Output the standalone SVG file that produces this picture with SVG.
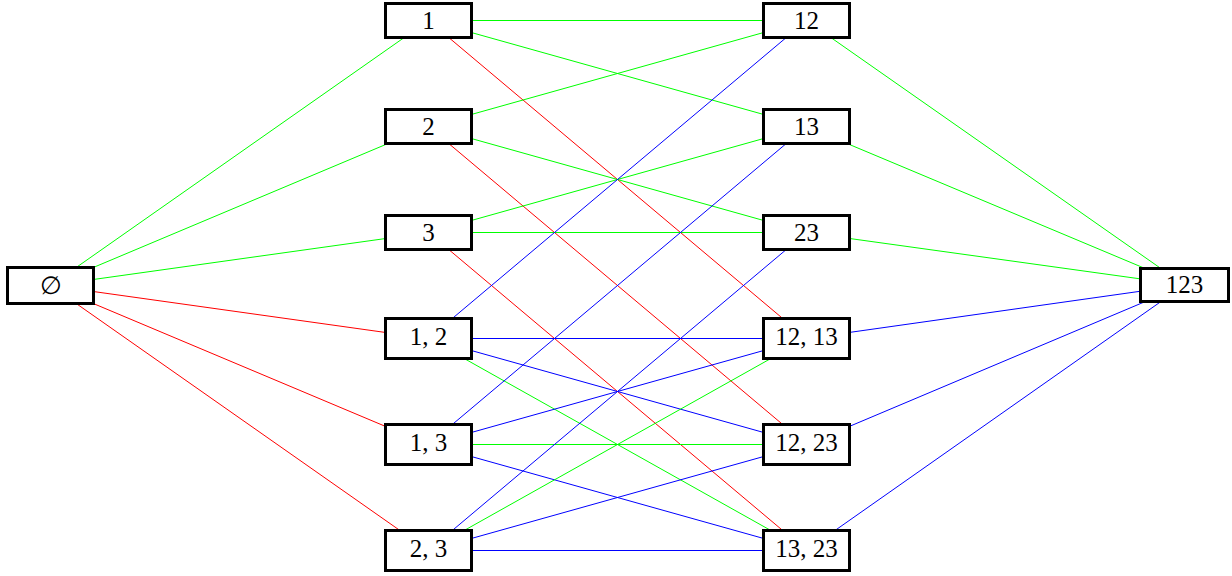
<svg xmlns="http://www.w3.org/2000/svg" width="1232" height="576" viewBox="0 0 1232 576">
<style>
.n rect{fill:#fff;stroke:#000;stroke-width:3}
.n text{font-family:"Liberation Serif","DejaVu Serif",serif;font-size:25px;text-anchor:middle;fill:#000}
.e line{stroke-width:1;fill:none}
.g{stroke:#00ff00}.r{stroke:#ff0000}.b{stroke:#0000ff}
</style>
<rect width="1232" height="576" fill="#fff"/>
<g id="connectors" class="e">
<line class="g" x1="50.5" y1="285.5" x2="428.5" y2="20.5"/>
<line class="g" x1="50.5" y1="285.5" x2="428.5" y2="126.5"/>
<line class="g" x1="50.5" y1="285.5" x2="428.5" y2="232.5"/>
<line class="r" x1="50.5" y1="285.5" x2="428.5" y2="338.5"/>
<line class="r" x1="50.5" y1="285.5" x2="428.5" y2="444.5"/>
<line class="r" x1="50.5" y1="285.5" x2="428.5" y2="550.5"/>
<line class="g" x1="428.5" y1="20.5" x2="806.5" y2="20.5"/>
<line class="g" x1="428.5" y1="20.5" x2="806.5" y2="126.5"/>
<line class="r" x1="428.5" y1="20.5" x2="806.5" y2="338.5"/>
<line class="g" x1="428.5" y1="126.5" x2="806.5" y2="20.5"/>
<line class="g" x1="428.5" y1="126.5" x2="806.5" y2="232.5"/>
<line class="r" x1="428.5" y1="126.5" x2="806.5" y2="444.5"/>
<line class="g" x1="428.5" y1="232.5" x2="806.5" y2="126.5"/>
<line class="g" x1="428.5" y1="232.5" x2="806.5" y2="232.5"/>
<line class="r" x1="428.5" y1="232.5" x2="806.5" y2="550.5"/>
<line class="b" x1="428.5" y1="338.5" x2="806.5" y2="20.5"/>
<line class="b" x1="428.5" y1="338.5" x2="806.5" y2="338.5"/>
<line class="b" x1="428.5" y1="338.5" x2="806.5" y2="444.5"/>
<line class="g" x1="428.5" y1="338.5" x2="806.5" y2="550.5"/>
<line class="b" x1="428.5" y1="444.5" x2="806.5" y2="126.5"/>
<line class="b" x1="428.5" y1="444.5" x2="806.5" y2="338.5"/>
<line class="g" x1="428.5" y1="444.5" x2="806.5" y2="444.5"/>
<line class="b" x1="428.5" y1="444.5" x2="806.5" y2="550.5"/>
<line class="b" x1="428.5" y1="550.5" x2="806.5" y2="232.5"/>
<line class="g" x1="428.5" y1="550.5" x2="806.5" y2="338.5"/>
<line class="b" x1="428.5" y1="550.5" x2="806.5" y2="444.5"/>
<line class="b" x1="428.5" y1="550.5" x2="806.5" y2="550.5"/>
<line class="g" x1="806.5" y1="20.5" x2="1184.5" y2="285"/>
<line class="g" x1="806.5" y1="126.5" x2="1184.5" y2="285"/>
<line class="g" x1="806.5" y1="232.5" x2="1184.5" y2="285"/>
<line class="b" x1="806.5" y1="338.5" x2="1184.5" y2="285"/>
<line class="b" x1="806.5" y1="444.5" x2="1184.5" y2="285"/>
<line class="b" x1="806.5" y1="550.5" x2="1184.5" y2="285"/>
</g>
<g id="n_empty" class="n"><rect x="7.5" y="267.5" width="86" height="36"/><text x="50.5" y="294">∅</text></g>
<g id="n_1" class="n"><rect x="385.5" y="3.5" width="86" height="34"/><text x="428.5" y="29">1</text></g>
<g id="n_2" class="n"><rect x="385.5" y="109.5" width="86" height="34"/><text x="428.5" y="135">2</text></g>
<g id="n_3" class="n"><rect x="385.5" y="215.5" width="86" height="34"/><text x="428.5" y="241">3</text></g>
<g id="n_1_2" class="n"><rect x="385.5" y="318.5" width="86" height="40"/><text x="428.5" y="345">1, 2</text></g>
<g id="n_1_3" class="n"><rect x="385.5" y="424.5" width="86" height="40"/><text x="428.5" y="451">1, 3</text></g>
<g id="n_2_3" class="n"><rect x="385.5" y="530.5" width="86" height="40"/><text x="428.5" y="557">2, 3</text></g>
<g id="n_12" class="n"><rect x="763.5" y="3.5" width="86" height="34"/><text x="806.5" y="29">12</text></g>
<g id="n_13" class="n"><rect x="763.5" y="109.5" width="86" height="34"/><text x="806.5" y="135">13</text></g>
<g id="n_23" class="n"><rect x="763.5" y="215.5" width="86" height="34"/><text x="806.5" y="241">23</text></g>
<g id="n_12_13" class="n"><rect x="763.5" y="318.5" width="86" height="40"/><text x="806.5" y="345">12, 13</text></g>
<g id="n_12_23" class="n"><rect x="763.5" y="424.5" width="86" height="40"/><text x="806.5" y="451">12, 23</text></g>
<g id="n_13_23" class="n"><rect x="763.5" y="530.5" width="86" height="40"/><text x="806.5" y="557">13, 23</text></g>
<g id="n_123" class="n"><rect x="1140.5" y="268.5" width="88" height="33"/><text x="1184.5" y="293">123</text></g>
</svg>
